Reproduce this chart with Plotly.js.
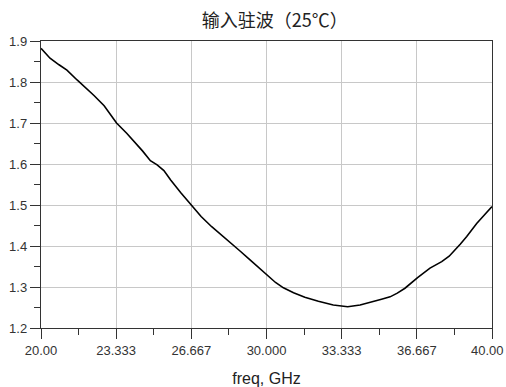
<!DOCTYPE html>
<html>
<head>
<meta charset="utf-8">
<script src="https://cdn.plot.ly/plotly-3.0.1.min.js"></script>
<style>html,body{margin:0;padding:0;background:#fff;}#chart{width:506px;height:387px;}</style>
</head>
<body>
<div id="chart"></div>
<script>
const freq = [20, 20.4, 20.8, 21.15, 21.6, 22.0, 22.35, 22.8, 23.35, 23.8, 24.1, 24.5, 24.85, 25.15, 25.45, 25.75, 26.2, 26.68, 27.1, 27.57, 28.0, 28.38, 28.8, 29.27, 29.7, 30.0, 30.4, 30.75, 31.2, 31.7, 32.3, 32.96, 33.3, 33.6, 34.15, 34.74, 35.1, 35.48, 35.8, 36.14, 36.7, 37.25, 37.77, 38.1, 38.36, 38.6, 38.88, 39.1, 39.32, 39.6, 40];
const vswr = [1.882, 1.858, 1.842, 1.829, 1.805, 1.786, 1.767, 1.742, 1.700, 1.675, 1.657, 1.632, 1.608, 1.598, 1.584, 1.561, 1.530, 1.500, 1.472, 1.447, 1.427, 1.410, 1.389, 1.366, 1.345, 1.329, 1.311, 1.298, 1.286, 1.275, 1.265, 1.256, 1.253, 1.252, 1.256, 1.264, 1.270, 1.276, 1.285, 1.297, 1.323, 1.346, 1.362, 1.375, 1.390, 1.405, 1.423, 1.440, 1.455, 1.472, 1.496];
const xTickVals = [20, 23.333, 26.667, 30, 33.333, 36.667, 40];
const xTickText = ["20.00", "23.333", "26.667", "30.000", "33.333", "36.667", "40.00"];
const yTickVals = [1.2, 1.3, 1.4, 1.5, 1.6, 1.7, 1.8, 1.9];
const yTickText = ["1.2", "1.3", "1.4", "1.5", "1.6", "1.7", "1.8", "1.9"];

const lastIdx = xTickVals.length - 1;
const axisTickText = xTickText.map((t, i) => i === lastIdx ? '' : t);
const tickFont = {family: 'Liberation Sans, Arial, sans-serif', size: 13, color: '#333'};

const trace = {
  x: freq, y: vswr, type: 'scatter', mode: 'lines',
  line: {color: '#000', width: 1.6},
  hoverinfo: 'skip'
};
const layout = {
  width: 506, height: 387,
  margin: {l: 41, r: 14, t: 41, b: 59},
  paper_bgcolor: '#fff', plot_bgcolor: '#fff',
  showlegend: false,
  title: {text: '输入驻波（25℃）', x: 0.543, xanchor: 'center', y: 0.946, yanchor: 'middle',
          font: {family: 'Noto Sans CJK SC, Noto Sans, sans-serif', size: 18, color: '#222'}},
  xaxis: {
    range: [20, 40], tickmode: 'array', tickvals: xTickVals, ticktext: axisTickText,
    ticks: 'outside', ticklen: 10, tickcolor: '#333', tickwidth: 1,
    minor: {dtick: 1.6666667, tick0: 20, ticks: 'outside', ticklen: 6, tickcolor: '#333', showgrid: false},
    showgrid: true, gridcolor: '#c8c8c8', gridwidth: 1,
    showline: true, linecolor: '#333', linewidth: 1.2, mirror: true,
    zeroline: false,
    tickfont: tickFont,
    title: {text: 'freq, GHz', standoff: 16, font: {family: 'Liberation Sans, Arial, sans-serif', size: 16, color: '#222'}}
  },
  yaxis: {
    range: [1.2, 1.9], tickmode: 'array', tickvals: yTickVals, ticktext: yTickText,
    ticks: 'outside', ticklen: 10, tickcolor: '#333', tickwidth: 1,
    minor: {dtick: 0.05, tick0: 1.2, ticks: 'outside', ticklen: 6, tickcolor: '#333', showgrid: false},
    showgrid: true, gridcolor: '#c8c8c8', gridwidth: 1,
    showline: true, linecolor: '#333', linewidth: 1.2, mirror: true,
    zeroline: false,
    tickfont: tickFont
  },
  annotations: [{
    x: xTickVals[lastIdx], xref: 'x', y: 0, yref: 'paper',
    text: xTickText[lastIdx], showarrow: false,
    xanchor: 'right', yanchor: 'top', xshift: 14, yshift: -13,
    font: tickFont
  }]
};
Plotly.newPlot('chart', [trace], layout, {staticPlot: true, displayModeBar: false});
</script>
</body>
</html>
